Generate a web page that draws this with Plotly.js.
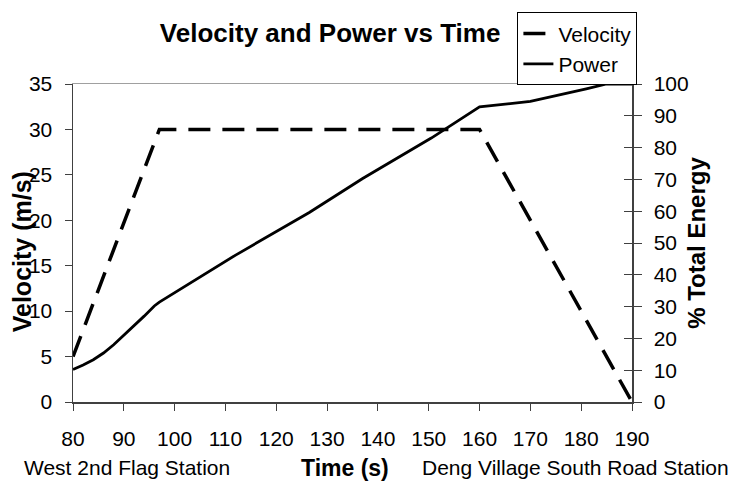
<!DOCTYPE html>
<html>
<head>
<meta charset="utf-8">
<script src="https://cdn.plot.ly/plotly-3.0.1.min.js"></script>
<style>html,body{margin:0;padding:0;background:#fff}#chart{width:736px;height:481px}</style>
</head>
<body>
<div id="chart"></div>
<script>
// Velocity series (m/s)
const velocityTime = [80, 97, 160, 190];
const velocityValues = [5, 30, 30, 0];

// Power series (% total energy)
const powerTime = [80, 82, 84, 86, 88, 90, 92, 94, 96, 97, 112, 126.5, 137, 144, 150.5, 156.5, 160, 170, 176, 181, 185, 190];
const powerValues = [10.2, 11.6, 13.3, 15.4, 18.0, 20.9, 23.9, 27.0, 30.2, 31.4, 46.2, 59.6, 70.3, 76.9, 83.0, 89.2, 92.8, 94.5, 96.6, 98.5, 100, 100];

const xTicks = [80, 90, 100, 110, 120, 130, 140, 150, 160, 170, 180, 190];
const leftTicks = [0, 5, 10, 15, 20, 25, 30, 35];
const rightTicks = [0, 10, 20, 30, 40, 50, 60, 70, 80, 90, 100];

const chartTitle = 'Velocity and Power vs Time';
const xTitle = 'Time (s)';
const leftTitle = 'Velocity (m/s)';
const rightTitle = '% Total Energy';
const startStation = 'West 2nd Flag Station';
const endStation = 'Deng Village South Road Station';

const FONT = 'Arial, "Liberation Sans", sans-serif';

const traces = [
  {
    x: velocityTime, y: velocityValues, name: 'Velocity', type: 'scatter', mode: 'lines',
    line: {color: '#000', width: 3.5, dash: '22px,12px'}, xaxis: 'x', yaxis: 'y', hoverinfo: 'skip'
  },
  {
    x: powerTime, y: powerValues, name: 'Power', type: 'scatter', mode: 'lines',
    line: {color: '#000', width: 2.8}, xaxis: 'x', yaxis: 'y2', hoverinfo: 'skip'
  },
  {
    x: [], y: [], type: 'scatter', mode: 'lines', xaxis: 'x2', yaxis: 'y3', showlegend: false, hoverinfo: 'skip'
  }
];

const layout = {
  width: 736, height: 481,
  margin: {l: 73, r: 104, t: 78, b: 79},
  paper_bgcolor: '#fff', plot_bgcolor: '#fff',
  font: {family: FONT, color: '#000', size: 21},
  showlegend: true,
  title: {text: '<b>' + chartTitle + '</b>', font: {family: FONT, size: 26, color: '#000'},
          x: 0.46, xanchor: 'center', xref: 'paper', y: 0.931, yanchor: 'middle', yref: 'container'},
  legend: {x: 0.795, xanchor: 'left', y: 1.225, yanchor: 'top', bgcolor: '#fff', bordercolor: '#000', borderwidth: 1,
           font: {family: FONT, size: 21, color: '#000'}, tracegroupgap: 0},
  xaxis: {
    range: [80, 190], tickvals: xTicks, ticktext: xTicks.map(String), ticks: 'outside', ticklen: 7, tickcolor: '#404040',
    showline: true, linecolor: '#404040', linewidth: 1.5, showgrid: false, zeroline: false,
    tickfont: {family: FONT, size: 21, color: '#000'}, ticklabelstandoff: 10
  },
  xaxis2: {
    range: [80, 190], overlaying: 'x', side: 'top', anchor: 'y', showline: true, linecolor: '#a0a0a0', linewidth: 1.5,
    ticks: '', showticklabels: false, showgrid: false, zeroline: false
  },
  yaxis: {
    range: [0, 35], tickvals: leftTicks, ticktext: leftTicks.map(String), ticks: 'outside', ticklen: 7, tickcolor: '#404040',
    showline: true, linecolor: '#404040', linewidth: 1.5, showgrid: false, zeroline: false,
    tickfont: {family: FONT, size: 21, color: '#000'}, ticklabelstandoff: 8
  },
  yaxis2: {
    range: [0, 100], tickvals: rightTicks, ticktext: rightTicks.map(String), overlaying: 'y', side: 'right', anchor: 'x',
    ticks: 'outside', ticklen: 8, tickcolor: '#404040',
    showline: true, linecolor: '#404040', linewidth: 1.5, showgrid: false, zeroline: false,
    tickfont: {family: FONT, size: 21, color: '#000'}, ticklabelstandoff: 8,
    title: {text: '<b>' + rightTitle + '</b>', font: {family: FONT, size: 24, color: '#000'}, standoff: 0}
  },
  yaxis3: {
    range: [0, 100], tickvals: rightTicks, overlaying: 'y', side: 'right', anchor: 'x',
    ticks: 'inside', ticklen: 8, tickcolor: '#404040', showticklabels: false,
    showline: false, showgrid: false, zeroline: false
  },
  annotations: [
    {text: '<b>' + leftTitle + '</b>', xref: 'paper', yref: 'paper', x: (21.7 - 73) / 559, y: 0.473, xanchor: 'center', yanchor: 'middle',
     textangle: -90, showarrow: false, font: {family: FONT, size: 25, color: '#000'}},
    {text: '<b>' + xTitle + '</b>', xref: 'paper', yref: 'paper', x: (345 - 73) / 559, y: -0.206, xanchor: 'center', yanchor: 'middle',
     showarrow: false, font: {family: FONT, size: 23, color: '#000'}},
    {text: startStation, xref: 'paper', yref: 'paper', x: -0.092, y: -0.206, xanchor: 'left', yanchor: 'middle',
     showarrow: false, font: {family: FONT, size: 21, color: '#000'}},
    {text: endStation, xref: 'paper', yref: 'paper', x: 0.621, y: -0.206, xanchor: 'left', yanchor: 'middle',
     showarrow: false, font: {family: FONT, size: 21, color: '#000'}}
  ]
};

Plotly.newPlot('chart', traces, layout, {displayModeBar: false, staticPlot: true});
</script>
</body>
</html>
